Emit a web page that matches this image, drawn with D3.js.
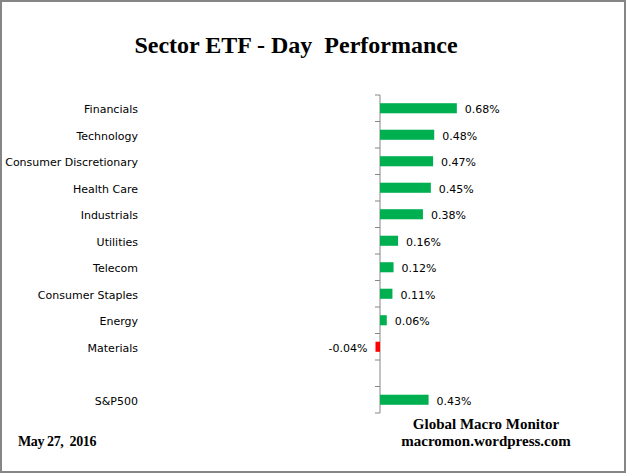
<!DOCTYPE html>
<html>
<head>
<meta charset="utf-8">
<script src="https://cdn.jsdelivr.net/npm/d3@7"></script>
<style>
  body { margin: 0; background: #fff; }
  svg { display: block; }
</style>
</head>
<body>
<script>
// data
var sectors = ["Financials", "Technology", "Consumer Discretionary", "Health Care", "Industrials",
               "Utilities", "Telecom", "Consumer Staples", "Energy", "Materials", "", "S&P500"];
var values = [0.68, 0.48, 0.47, 0.45, 0.38, 0.16, 0.12, 0.11, 0.06, -0.04, null, 0.43];
var valueLabels = ["0.68%", "0.48%", "0.47%", "0.45%", "0.38%", "0.16%", "0.12%", "0.11%", "0.06%", "-0.04%", "", "0.43%"];

var W = 626, H = 473;

var svg = d3.select("body").append("svg")
    .attr("width", W)
    .attr("height", H);

// frame
svg.append("rect")
    .attr("x", 1).attr("y", 1)
    .attr("width", W - 2).attr("height", H - 2)
    .attr("fill", "#fff")
    .attr("stroke", "#868686")
    .attr("stroke-width", 2);

svg.append("text")
    .attr("x", 296).attr("y", 53)
    .attr("text-anchor", "middle")
    .style("font-family", "'Liberation Serif', 'Times New Roman', serif")
    .style("font-weight", "bold")
    .style("font-size", "24px")
    .style("white-space", "pre")
    .text("Sector ETF - Day  Performance");

var data = sectors.map(function(s, i) { return {name: s, value: values[i], label: valueLabels[i], key: i}; });

// scales
var x = d3.scaleLinear().domain([0, 1]).range([380, 493]);
var y = d3.scaleBand().domain(d3.range(sectors.length)).range([95, 413]).paddingInner(0.62).paddingOuter(0.31);
var yTicks = d3.scaleLinear().domain([0, sectors.length]).range([95, 413]);

// axis line with ticks between categories
var axis = svg.append("g");
axis.append("line")
    .attr("x1", x(0)).attr("x2", x(0))
    .attr("y1", 95).attr("y2", 413)
    .attr("stroke", "#868686").attr("stroke-width", 1);
axis.selectAll(".tk").data(d3.range(sectors.length + 1))
  .enter().append("line")
    .attr("x1", x(0) - 5).attr("x2", x(0))
    .attr("y1", function(d) { return yTicks(d); })
    .attr("y2", function(d) { return yTicks(d); })
    .attr("stroke", "#868686");

// bars
svg.selectAll(".bar").data(data.filter(function(d) { return d.value != null; }))
  .enter().append("rect")
    .attr("class", "bar")
    .attr("x", function(d) { return x(Math.min(0, d.value)); })
    .attr("y", function(d) { return y(d.key); })
    .attr("width", function(d) { return Math.abs(x(d.value) - x(0)); })
    .attr("height", y.bandwidth())
    .attr("fill", function(d) { return d.value < 0 ? "#ff0000" : "#00b050"; });

// category labels
svg.selectAll(".cat").data(data)
  .enter().append("text")
    .attr("x", 138)
    .attr("y", function(d) { return y(d.key) + y.bandwidth() / 2 + 1; })
    .attr("dy", "0.35em")
    .attr("text-anchor", "end")
    .style("font-family", "'DejaVu Sans', Verdana, sans-serif")
    .style("font-size", "11px")
    .text(function(d) { return d.name; });

// value labels
svg.selectAll(".val").data(data)
  .enter().append("text")
    .attr("x", function(d) { return d.value < 0 ? x(d.value) - 8 : x(d.value) + 8; })
    .attr("y", function(d) { return y(d.key) + y.bandwidth() / 2 + 1; })
    .attr("dy", "0.35em")
    .attr("text-anchor", function(d) { return d.value < 0 ? "end" : "start"; })
    .style("font-family", "'DejaVu Sans', Verdana, sans-serif")
    .style("font-size", "11px")
    .text(function(d) { return d.label; });

// footer
var serif = "'Liberation Serif', 'Times New Roman', serif";
svg.append("text").attr("x", 486).attr("y", 429)
    .attr("text-anchor", "middle")
    .style("font-family", serif).style("font-weight", "bold").style("font-size", "15px")
    .text("Global Macro Monitor");
svg.append("text").attr("x", 486).attr("y", 446)
    .attr("text-anchor", "middle")
    .style("font-family", serif).style("font-weight", "bold").style("font-size", "15px")
    .text("macromon.wordpress.com");
svg.append("text").attr("x", 18).attr("y", 446)
    .style("font-family", serif).style("font-weight", "bold").style("font-size", "14px")
    .style("letter-spacing", "-0.4px")
    .style("white-space", "pre")
    .text("May 27,  2016");
</script>
</body>
</html>
